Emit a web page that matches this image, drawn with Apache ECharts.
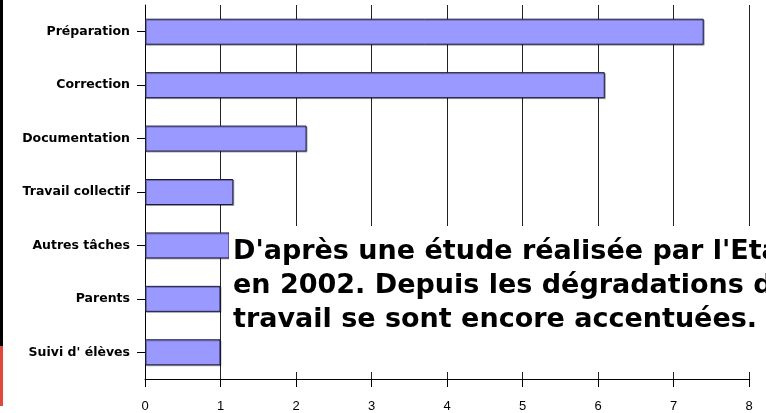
<!DOCTYPE html>
<html>
<head>
<meta charset="utf-8">
<script src="https://cdn.jsdelivr.net/npm/echarts@6/dist/echarts.min.js"></script>
<style>
  html, body { margin: 0; padding: 0; background: #fff; }
  #chart { width: 766px; height: 413px; }
</style>
</head>
<body>
<div id="chart"></div>
<script>
var categories = ['Préparation', 'Correction', 'Documentation', 'Travail collectif', 'Autres tâches', 'Parents', "Suivi d' élèves"];
var hours = [7.4, 6.09, 2.14, 1.17, 1.12, 1.0, 1.0];
var xTicks = [0, 1, 2, 3, 4, 5, 6, 7, 8];
var noteLines = [
  "D'après une étude réalisée par l'Etat",
  'en 2002. Depuis les dégradations des conditions de',
  'travail se sont encore accentuées.'
];

var myChart = echarts.init(document.getElementById('chart'));
var labelFont = 'DejaVu Sans';

myChart.setOption({
  animation: false,
  grid: {
    left: 145,
    right: 17,
    top: 5,
    bottom: 34
  },
  xAxis: {
    type: 'value',
    min: xTicks[0],
    max: xTicks[xTicks.length - 1],
    interval: 1,
    axisLine: { show: true, lineStyle: { color: '#000', width: 1 } },
    axisTick: { show: true, length: 8, lineStyle: { color: '#000' } },
    axisLabel: {
      margin: 21,
      color: '#000',
      fontSize: 13,
      fontFamily: 'Liberation Sans'
    },
    splitLine: { show: true, lineStyle: { color: '#222', width: 1 } }
  },
  yAxis: {
    type: 'category',
    data: categories,
    inverse: true,
    axisLine: { show: true, lineStyle: { color: '#000', width: 1 } },
    axisTick: { show: true, alignWithLabel: true, length: 8, lineStyle: { color: '#000' } },
    axisLabel: {
      margin: 15,
      color: '#000',
      fontSize: 12.5,
      fontWeight: 'bold',
      fontFamily: labelFont
    }
  },
  series: [
    {
      type: 'bar',
      data: hours,
      barWidth: 26,
      itemStyle: {
        color: '#9999ff',
        borderColor: '#1a1a40',
        borderWidth: 1,
        shadowColor: 'rgba(0,0,0,0.3)',
        shadowOffsetX: 1,
        shadowOffsetY: 1,
        shadowBlur: 0
      }
    }
  ],
  graphic: [
    // strip on the left edge
    { type: 'rect', left: 0, top: 0, shape: { width: 3, height: 346 }, style: { fill: '#000' }, z: 10 },
    { type: 'rect', left: 0, top: 346, shape: { width: 3, height: 60 }, style: { fill: '#e0483a' }, z: 10 },
    // white box behind the note
    { type: 'rect', left: 229, top: 226, shape: { width: 540, height: 146 }, style: { fill: '#fff' }, z: 20 },
    { type: 'text', left: 233, top: 238, z: 21,
      style: { text: noteLines[0], fill: '#000', font: 'bold 27px ' + labelFont } },
    { type: 'text', left: 233, top: 272, z: 21,
      style: { text: noteLines[1], fill: '#000', font: 'bold 27px ' + labelFont } },
    { type: 'text', left: 233, top: 306, z: 21,
      style: { text: noteLines[2], fill: '#000', font: 'bold 27px ' + labelFont } }
  ]
});
</script>
</body>
</html>
